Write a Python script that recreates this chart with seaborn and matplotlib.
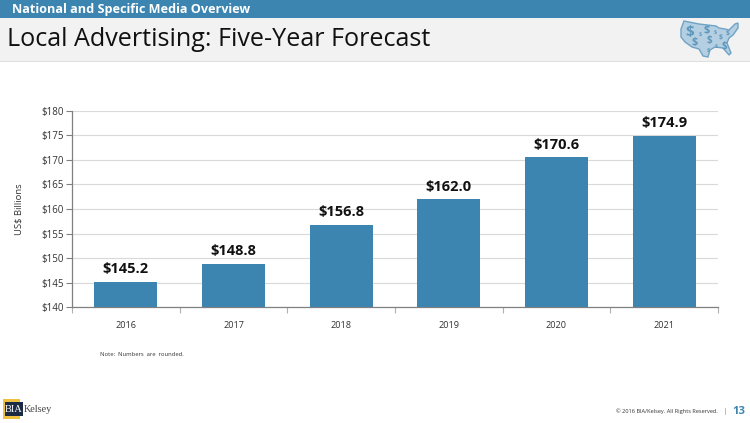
import matplotlib
matplotlib.use("Agg")
import matplotlib.pyplot as plt
import pandas as pd
import seaborn as sns
from matplotlib.patches import Polygon, Rectangle

BLUE = "#3c85b0"
W, H = 750, 423

years = ["2016", "2017", "2018", "2019", "2020", "2021"]
values = [145.2, 148.8, 156.8, 162.0, 170.6, 174.9]
y_ticks = [140, 145, 150, 155, 160, 165, 170, 175, 180]

sns.set_theme(style="whitegrid")
plt.rcParams["font.family"] = ["Open Sans", "DejaVu Sans"]

fig = plt.figure(figsize=(7.5, 4.23), dpi=100)
ax = fig.add_axes([72 / W, 1 - 307 / H, (718 - 72) / W, (307 - 111) / H])


def px_rect(x0, y0, x1, y1, color, zorder=0):
    fig.add_artist(Rectangle((x0 / W, 1 - y1 / H), (x1 - x0) / W, (y1 - y0) / H,
                             transform=fig.transFigure, facecolor=color,
                             edgecolor="none", zorder=zorder))


def px_text(x, y, text, **kw):
    kw.setdefault("va", "center")
    fig.text(x / W, 1 - y / H, text, **kw)


# header bands
px_rect(0, 0, W, 18, BLUE)
px_rect(0, 18, W, 61, "#f2f2f2")
px_rect(0, 61, W, 62, "#dedede")
px_text(12, 9, "National and Specific Media Overview", color="white", fontsize=9.1, fontweight="bold")
px_text(7, 39, "Local Advertising: Five-Year Forecast", color="#111111", fontsize=18.1)

# small US map in the corner
outline = [(684, 21), (699, 24), (716, 26), (719, 28), (725, 29), (729, 30), (735, 24), (738, 23),
           (738, 28), (733, 35), (729, 38), (727, 43), (731, 53), (729, 55), (723, 48), (715, 47),
           (710, 50), (708, 57), (703, 56), (699, 49), (692, 47), (685, 42), (681, 37), (681, 29)]
fig.add_artist(Polygon([(x / W, 1 - y / H) for x, y in outline], closed=True, transform=fig.transFigure,
                       facecolor="#b4cfe2", edgecolor="#6fa3c5", linewidth=1, zorder=1))
for x, y, size in [(690, 32, 11), (700, 34, 4), (707, 30, 8), (715, 33, 4), (728, 34, 5),
                   (695, 42, 8), (709, 40, 7), (721, 38, 5), (716, 46, 4), (724, 46, 7), (708, 50, 4)]:
    px_text(x, y, "$", color="#5f97bd", fontsize=size, fontweight="bold", ha="center", zorder=2)

# chart
df = pd.DataFrame({"year": years, "value": values})
sns.barplot(data=df, x="year", y="value", color=BLUE, saturation=1, width=0.585, ax=ax, zorder=3,
            linewidth=0, edgecolor="none")
ax.set_ylim(140, 180)
ax.set_xlim(-0.5, 5.5)
ax.set_yticks(y_ticks)
ax.set_yticklabels([f"${t}" for t in y_ticks])
ax.set_xlabel("")
ax.set_ylabel("US$ Billions", fontsize=6.8, color="#333333", labelpad=13)
ax.set_axisbelow(True)
ax.grid(False)
ax.grid(True, axis="y", color="#d9d9d9", linewidth=0.8)
ax.tick_params(axis="y", labelsize=7, labelcolor="#333333", length=4, width=0.8, color="#808080",
               left=True, pad=2)
ax.tick_params(axis="x", labelsize=6.6, labelcolor="#333333", length=0, pad=10)
# x ticks sit between the categories
ax.set_xticks([i - 0.5 for i in range(7)], minor=True)
ax.tick_params(axis="x", which="minor", bottom=True, length=4, width=0.8, color="#b0b0b0", direction="out")
for side in ["top", "right"]:
    ax.spines[side].set_visible(False)
for side in ["left", "bottom"]:
    ax.spines[side].set_visible(True)
    ax.spines[side].set_color("#808080")
    ax.spines[side].set_linewidth(0.9)
for i, v in enumerate(values):
    ax.annotate(f"${v:.1f}", (i, v), xytext=(0, 4), textcoords="offset points", ha="center", va="bottom",
                fontsize=10.5, fontweight="bold", color="#111111")

# footer
px_text(100, 354, "Note:  Numbers  are  rounded.", fontsize=4.2, color="#333333")
px_rect(3, 399, 20, 419, "#f0c040")
px_rect(5, 402, 23, 416, "#1c2b45", zorder=1)
px_text(14, 409, "BIA", color="white", fontsize=7.5, ha="center", zorder=2, family=["Liberation Serif"])
px_text(24, 409.5, "Kelsey", color="#444444", fontsize=7.4, zorder=2, family=["Liberation Serif"])
px_text(718, 411, "© 2016 BIA/Kelsey. All Rights Reserved.", fontsize=4.1, color="#333333", ha="right")
px_text(725, 411, "|", fontsize=6, color="#999999", ha="center")
px_text(732.5, 411, "13", fontsize=8.2, color=BLUE, fontweight="bold")

fig.savefig("out.png", dpi=100)
